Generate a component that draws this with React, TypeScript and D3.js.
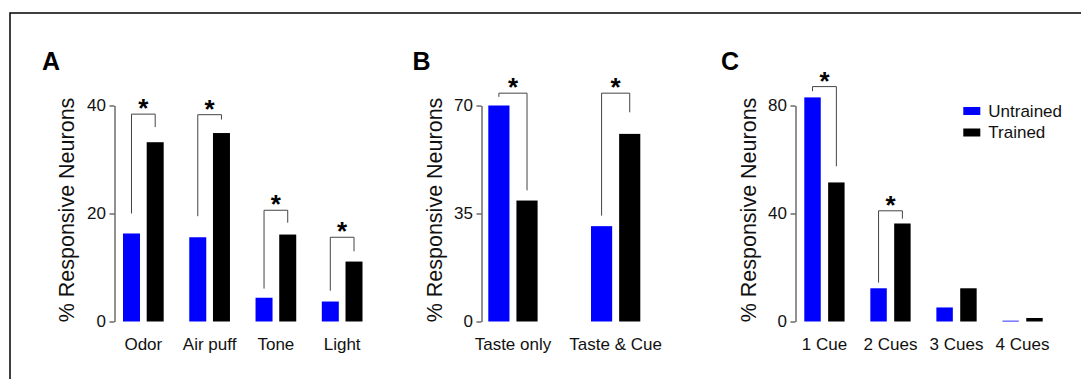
import { useEffect, useRef } from 'react';
import * as d3 from 'd3';

const FONT = '"Liberation Sans", Arial, Helvetica, sans-serif';

const series = ['Untrained', 'Trained'];
const colors = ['#0000ff', '#000000'];

// panel A - single cue types
const catsA = ['Odor', 'Air puff', 'Tone', 'Light'];
const untrainedA = [16.3, 15.6, 4.4, 3.7];
const trainedA = [33.2, 34.9, 16.1, 11.1];
const ticksA = [0, 20, 40];
const sigTopA = [38.4, 38.3, 20.6, 15.6];
const sigLeftA = [20.0, 19.5, 6.1, 5.7];
const sigRightA = [36.0, 37.4, 18.3, 13.0];

// panel B - taste
const catsB = ['Taste only', 'Taste & Cue'];
const untrainedB = [70, 30.9];
const trainedB = [39.2, 60.8];
const ticksB = [0, 35, 70];
const sigTopB = [74.0, 74.0];
const sigLeftB = [72.8, 34.3];
const sigRightB = [42.5, 67.8];

// panel C - number of cues
const catsC = ['1 Cue', '2 Cues', '3 Cues', '4 Cues'];
const untrainedC = [83.0, 12.3, 5.2, 0.3];
const trainedC = [51.5, 36.3, 12.3, 1.3];
const ticksC = [0, 40, 80];
const sigTopC = [87.0, 41.0, null, null];
const sigLeftC = [85.3, 14.4, null, null];
const sigRightC = [57.5, 38.1, null, null];

const width = 1081;
const height = 379;
const yBottom = 321.5;
const yTop = 105.5;

const panels = [
  { letter: 'A', cats: catsA, vals: [untrainedA, trainedA], ticks: ticksA, top: sigTopA, left: sigLeftA, right: sigRightA,
    axisX: 114.5, x0: 123, x1: 362.5, pad: 0.386, innerPad: 0.283, letterX: 42, titleX: 74 },
  { letter: 'B', cats: catsB, vals: [untrainedB, trainedB], ticks: ticksB, top: sigTopB, left: sigLeftB, right: sigRightB,
    axisX: 481.5, x0: 488.3, x1: 640.3, pad: 0.52, innerPad: 0.248, letterX: 412.5, titleX: 442 },
  { letter: 'C', cats: catsC, vals: [untrainedC, trainedC], ticks: ticksC, top: sigTopC, left: sigLeftC, right: sigRightC,
    axisX: 795.5, x0: 804.3, x1: 1042.7, pad: 0.39, innerPad: 0.31, letterX: 721, titleX: 755.5 },
];

const YAxis = ({ scale, ticks, x }: any) => {
  const ref = useRef<SVGGElement>(null);
  useEffect(() => {
    const g = d3.select(ref.current);
    g.call(d3.axisLeft(scale).tickValues(ticks).tickSize(5).tickSizeOuter(0).tickPadding(3.5) as any);
    g.attr('font-size', null).attr('font-family', null);
    g.select('.domain').attr('stroke', '#222');
    g.selectAll('.tick line').attr('stroke', '#222');
    g.selectAll('.tick text').attr('font-size', 17).attr('font-family', FONT).attr('fill', '#111');
  }, [scale, ticks]);
  return <g ref={ref} transform={`translate(${x},0)`} />;
};

const Panel = ({ p }: any) => {
  const y = d3.scaleLinear().domain([0, d3.max(p.ticks) as number]).range([yBottom, yTop]);
  const x = d3.scaleBand().domain(p.cats).range([p.x0, p.x1]).paddingInner(p.pad).paddingOuter(0);
  const xs = d3.scaleBand().domain(series).range([0, x.bandwidth()]).paddingInner(p.innerPad).paddingOuter(0);
  const cx = (c: string, s: string) => (x(c) as number) + (xs(s) as number) + xs.bandwidth() / 2;

  return (
    <g>
      <text x={p.letterX} y={69.5} fontSize={25} fontWeight="bold" fontFamily={FONT}>{p.letter}</text>
      <text transform={`translate(${p.titleX},210) rotate(-90)`} textAnchor="middle" fontSize={21.5} fontFamily={FONT} fill="#111">
        % Responsive Neurons
      </text>
      {p.cats.map((c: string, i: number) => (
        <g key={c}>
          {series.map((s, j) => {
            const v = p.vals[j][i];
            return (
              <rect key={s} x={(x(c) as number) + (xs(s) as number)} y={y(v)} width={xs.bandwidth()}
                height={Math.max(yBottom - y(v), 0.8)} fill={colors[j]} />
            );
          })}
          <text x={(x(c) as number) + x.bandwidth() / 2} y={350} textAnchor="middle" fontSize={17} fontFamily={FONT} fill="#111">{c}</text>
          {p.top[i] != null && (
            <g>
              <path
                d={`M${cx(c, series[0])},${y(p.left[i])}V${y(p.top[i])}H${cx(c, series[1])}V${y(p.right[i])}`}
                fill="none" stroke="#444" strokeWidth={1} />
              <text x={(cx(c, series[0]) + cx(c, series[1])) / 2} y={y(p.top[i]) + 3} textAnchor="middle"
                fontSize={26} fontWeight="bold" fontFamily={FONT}>*</text>
            </g>
          )}
        </g>
      ))}
      <YAxis scale={y} ticks={p.ticks} x={p.axisX} />
    </g>
  );
};

const App = () => {
  return (
    <svg width={width} height={height} style={{ position: 'absolute', left: 0, top: 0, background: '#fff' }}>
      <path d={`M10,${height}V13H${width}`} fill="none" stroke="#000" strokeWidth={1.5} />
      {panels.map(p => <Panel key={p.letter} p={p} />)}
      {series.map((s, i) => (
        <g key={s}>
          <rect x={963.3} y={107 + i * 21.5} width={17} height={8} fill={colors[i]} />
          <text x={988.3} y={116.7 + i * 21.6} fontSize={17} fontFamily={FONT} fill="#111">{s}</text>
        </g>
      ))}
    </svg>
  );
};

export default App;
